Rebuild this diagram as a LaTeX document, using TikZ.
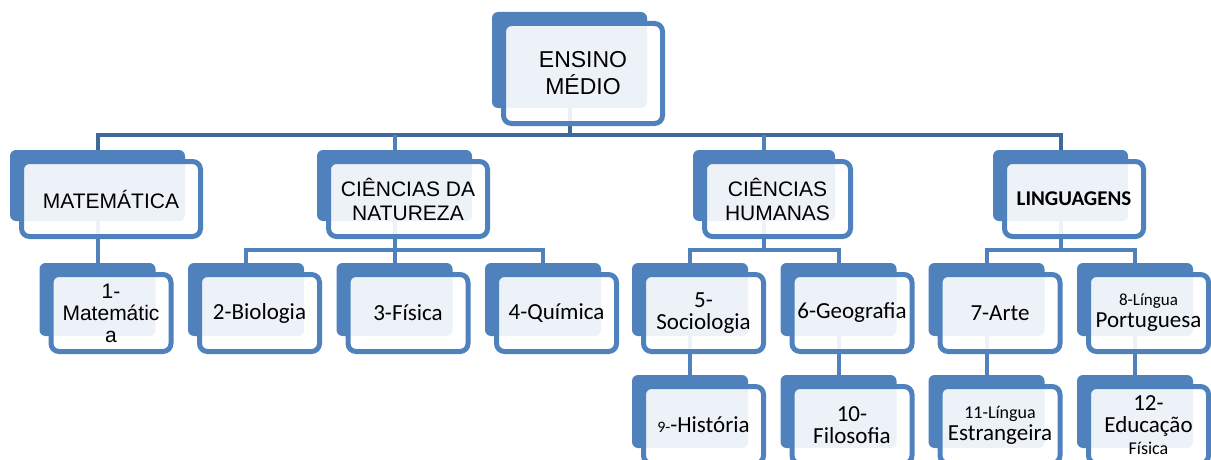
\documentclass[tikz,border=0pt]{standalone}
\usepackage{fontspec}
\setmainfont{Liberation Sans}
\newfontfamily\calibri{Carlito}
\definecolor{boxblue}{HTML}{4F81BD}
\definecolor{busblue}{HTML}{41689B}
\tikzset{
  backbox/.style={fill=boxblue, rounded corners=6pt, inner sep=0pt},
  frontbox/.style={draw=boxblue, line width=5pt, fill=white, fill opacity=0.9, text opacity=1,
    rounded corners=8pt, inner sep=0pt, align=center, text=black},
  caps/.style={font=\fontsize{21}{24}\selectfont},
  subj/.style={font=\calibri\fontsize{23}{22}\selectfont},
  bus/.style={draw=busblue, line width=4pt},
  link/.style={draw=boxblue, line width=4pt}
}
\begin{document}
\begin{tikzpicture}[x=1pt, y=-1pt]
    \useasboundingbox (0,0) rectangle (1211,460);
    \begin{scope}
      \def\cw{116}
      \def\ch{73}
      \node[backbox, minimum width=155, minimum height=96] (ensB) at (569.5,60) {};
      \node[backbox, minimum width=175, minimum height=71] (matB) at (97.5,185.5) {};
      \node[backbox, minimum width=155, minimum height=71] (cnB) at (394.5,185.5) {};
      \node[backbox, minimum width=142, minimum height=71] (chB) at (764,185.5) {};
      \node[backbox, minimum width=135, minimum height=71] (lingB) at (1060.5,185.5) {};
      \node[backbox, minimum width=\cw, minimum height=\ch] (m1B) at (97.5,299.5) {};
      \node[backbox, minimum width=\cw, minimum height=\ch] (bioB) at (246,299.5) {};
      \node[backbox, minimum width=\cw, minimum height=\ch] (fisB) at (394.5,299.5) {};
      \node[backbox, minimum width=\cw, minimum height=\ch] (quiB) at (543,299.5) {};
      \node[backbox, minimum width=\cw, minimum height=\ch] (socB) at (690,299.5) {};
      \node[backbox, minimum width=\cw, minimum height=\ch] (geoB) at (838.5,299.5) {};
      \node[backbox, minimum width=\cw, minimum height=\ch] (arteB) at (986.5,299.5) {};
      \node[backbox, minimum width=\cw, minimum height=\ch] (portB) at (1135,299.5) {};
      \node[backbox, minimum width=\cw, minimum height=\ch] (histB) at (690,411.5) {};
      \node[backbox, minimum width=\cw, minimum height=\ch] (filoB) at (838.5,411.5) {};
      \node[backbox, minimum width=\cw, minimum height=\ch] (estrB) at (986.5,411.5) {};
      \node[backbox, minimum width=\cw, minimum height=\ch] (eduB) at (1135,411.5) {};

      \coordinate (busA) at (0,135);
      \coordinate (busB) at (0,250);
      \draw[bus] (matB.north) -- (matB.north |- busA) -- (lingB.north |- busA) -- (lingB.north);
      \draw[bus] (ensB.south) -- (ensB.south |- busA);
      \draw[link] (cnB.north) -- (cnB.north |- busA);
      \draw[link] (chB.north) -- (chB.north |- busA);
      \draw[link] (matB.south) -- (m1B.north);
      \draw[link] (cnB.south) -- (cnB.south |- busB);
      \draw[link] (bioB.north) -- (bioB.north |- busB) -- (quiB.north |- busB) -- (quiB.north);
      \draw[link] (fisB.north) -- (fisB.north |- busB);
      \draw[link] (chB.south) -- (chB.south |- busB);
      \draw[link] (socB.north) -- (socB.north |- busB) -- (geoB.north |- busB) -- (geoB.north);
      \draw[link] (lingB.south) -- (lingB.south |- busB);
      \draw[link] (arteB.north) -- (arteB.north |- busB) -- (portB.north |- busB) -- (portB.north);
      \draw[link] (socB.south) -- (histB.north);
      \draw[link] (geoB.south) -- (filoB.north);
      \draw[link] (arteB.south) -- (estrB.north);
      \draw[link] (portB.south) -- (eduB.north);

      \node[frontbox, font=\fontsize{23}{27}\selectfont, minimum width=159, minimum height=100] (ens) at (583,73.5) {ENSINO\\MÉDIO};
      \node[frontbox, caps, minimum width=179, minimum height=75] (mat) at (111,199) {MATEMÁTICA};
      \node[frontbox, caps, minimum width=159, minimum height=75] (cn) at (408,199) {CIÊNCIAS DA\\NATUREZA};
      \node[frontbox, caps, minimum width=146, minimum height=75] (ch) at (777.5,199) {CIÊNCIAS\\HUMANAS};
      \node[frontbox, font=\calibri\bfseries\fontsize{21}{22}\selectfont, minimum width=139, minimum height=75] (ling) at (1074,199) {LINGUAGENS};
      \node[frontbox, font=\fontsize{21}{22}\selectfont, minimum width=120, minimum height=77] (m1) at (111,313) {1-\\Matemátic\\a};
      \node[frontbox, subj, minimum width=120, minimum height=77] (bio) at (259.5,313) {2-Biologia};
      \node[frontbox, subj, minimum width=120, minimum height=77] (fis) at (408,313) {3-Física};
      \node[frontbox, subj, minimum width=120, minimum height=77] (qui) at (556.5,313) {4-Química};
      \node[frontbox, subj, minimum width=120, minimum height=77] (soc) at (703.5,313) {5-\\Sociologia};
      \node[frontbox, subj, minimum width=120, minimum height=77] (geo) at (852,313) {6-Geografia};
      \node[frontbox, subj, minimum width=120, minimum height=77] (arte) at (1000,313) {7-Arte};
      \node[frontbox, subj, minimum width=120, minimum height=77] (port) at (1148.5,313) {{\fontsize{17}{17}\selectfont 8-Língua}\\Portuguesa};
      \node[frontbox, subj, minimum width=120, minimum height=77] (hist) at (703.5,425) {{\fontsize{16}{16}\selectfont 9-}-História};
      \node[frontbox, subj, minimum width=120, minimum height=77] (filo) at (852,425) {10-\\Filosofia};
      \node[frontbox, subj, minimum width=120, minimum height=77] (estr) at (1000,425) {{\fontsize{18}{18}\selectfont 11-Língua}\\Estrangeira};
      \node[frontbox, subj, minimum width=120, minimum height=77] (edu) at (1148.5,425) {12-\\Educação\\{\fontsize{18}{18}\selectfont Física}};
    \end{scope}
  \end{tikzpicture}
\end{document}
